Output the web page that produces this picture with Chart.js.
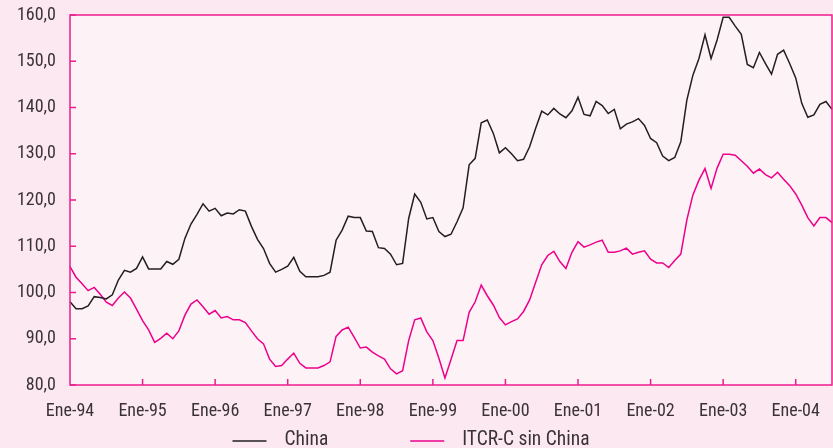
<!DOCTYPE html>
<html>
<head>
<meta charset="utf-8">
<script src="https://cdn.jsdelivr.net/npm/chart.js@4.4.1/dist/chart.umd.min.js"></script>
<style>
  html, body { margin: 0; padding: 0; background: #fce8f0; }
  #wrap { width: 833px; height: 448px; }
</style>
</head>
<body>
<div id="wrap"><canvas id="lineChart"></canvas></div>
<script>
// meses y años
const monthNames = ['Ene', 'Feb', 'Mar', 'Abr', 'May', 'Jun', 'Jul', 'Ago', 'Sep', 'Oct', 'Nov', 'Dic'];
const years = ['94', '95', '96', '97', '98', '99', '00', '01', '02', '03', '04'];

// serie China (Ene-94 a Jul-04)
const chinaValues = [
    98.0, 96.5, 96.5, 97.1, 99.1, 98.9, 98.6, 99.5, 102.7, 104.8, 104.4, 105.2,
    107.7, 105.1, 105.1, 105.1, 106.7, 106.1, 107.2, 111.7, 114.8, 116.9, 119.2, 117.6,
    118.2, 116.6, 117.2, 117.0, 117.9, 117.6, 114.3, 111.5, 109.5, 106.3, 104.4, 105.0,
    105.7, 107.6, 104.6, 103.4, 103.4, 103.4, 103.7, 104.4, 111.3, 113.5, 116.5, 116.2,
    116.2, 113.3, 113.2, 109.7, 109.5, 108.3, 106.0, 106.3, 116.0, 121.3, 119.5, 115.9,
    116.2, 113.2, 112.1, 112.6, 115.3, 118.3, 127.6, 129.0, 136.7, 137.3, 134.4, 130.2,
    131.3, 130.0, 128.5, 128.8, 131.5, 135.5, 139.2, 138.4, 139.8, 138.6, 137.8, 139.3,
    142.2, 138.5, 138.2, 141.3, 140.4, 138.7, 139.6, 135.4, 136.4, 136.9, 137.6, 136.1,
    133.3, 132.4, 129.5, 128.5, 129.2, 132.6, 141.6, 147.0, 150.6, 155.7, 150.6, 154.6,
    159.5, 159.5, 157.6, 155.8, 149.3, 148.6, 151.9, 149.5, 147.2, 151.5, 152.4, 149.5,
    146.4, 140.9, 137.9, 138.4, 140.7, 141.3, 139.6
];

// serie ITCR-C sin China
const itcrValues = [
    105.6, 103.3, 101.9, 100.4, 101.1, 99.6, 97.9, 97.2, 98.8, 100.1, 98.8, 96.4,
    93.9, 91.9, 89.2, 90.1, 91.2, 90.0, 91.7, 95.1, 97.5, 98.4, 96.9, 95.3,
    96.1, 94.5, 94.8, 94.1, 94.1, 93.5, 91.7, 90.0, 88.9, 85.6, 84.0, 84.2,
    85.6, 86.9, 84.7, 83.7, 83.7, 83.7, 84.2, 85.0, 90.5, 91.9, 92.5, 90.3,
    88.0, 88.2, 87.1, 86.3, 85.6, 83.5, 82.4, 83.1, 89.6, 94.1, 94.5, 91.5,
    89.6, 85.8, 81.5, 85.5, 89.6, 89.6, 95.7, 98.0, 101.6, 99.3, 97.3, 94.6,
    93.0, 93.7, 94.3, 95.9, 98.4, 102.2, 106.0, 108.0, 108.9, 106.7, 105.2, 108.7,
    111.0, 109.8, 110.3, 110.9, 111.3, 108.7, 108.7, 109.0, 109.6, 108.3, 108.7, 109.0,
    107.2, 106.4, 106.4, 105.4, 106.9, 108.3, 115.7, 121.1, 124.3, 126.8, 122.5, 126.9,
    129.9, 129.9, 129.7, 128.5, 127.3, 125.8, 126.7, 125.5, 124.8, 126.0, 124.5, 123.1,
    121.3, 118.9, 116.2, 114.4, 116.2, 116.2, 115.1
];

const yTicks = [80, 90, 100, 110, 120, 130, 140, 150, 160];

const labels = [];
years.forEach(function (yy) {
    monthNames.forEach(function (m) { labels.push(m + '-' + yy); });
});
labels.length = chinaValues.length;

const axisColor = '#ec1c8c';
const textColor = '#3a3336';
const fontFamily = "'Roboto Condensed', 'DejaVu Sans Condensed', sans-serif";
const fontSize = 18;
const legendFontSize = 19.5;

// fondo del area, marco, marcas hacia adentro y leyenda
const framePlugin = {
    id: 'frame',
    beforeDraw(chart) {
        const { ctx, chartArea: a } = chart;
        ctx.save();
        ctx.fillStyle = '#fdf3f7';
        ctx.fillRect(a.left, a.top, a.right - a.left, a.bottom - a.top);
        ctx.restore();
    },
    afterDraw(chart) {
        const { ctx, chartArea: a, scales } = chart;
        ctx.save();
        ctx.strokeStyle = axisColor;
        ctx.lineWidth = 1.5;
        ctx.strokeRect(a.left, a.top, a.right - a.left, a.bottom - a.top);
        ctx.beginPath();
        labels.forEach(function (l, i) {
            if (i % 12 === 0 && i > 0) {
                const x = scales.x.getPixelForValue(i);
                ctx.moveTo(x, a.bottom);
                ctx.lineTo(x, a.bottom - 6);
            }
        });
        yTicks.forEach(function (v) {
            const y = scales.y.getPixelForValue(v);
            ctx.moveTo(a.left, y);
            ctx.lineTo(a.left + 6, y);
        });
        ctx.stroke();

        // leyenda
        const lineLen = 34, textGap = 18, itemGap = 82;
        const y = 440;
        ctx.font = legendFontSize + 'px ' + fontFamily;
        const items = chart.data.datasets.map(function (ds) {
            return { text: ds.label, color: ds.borderColor, w: ctx.measureText(ds.label).width };
        });
        let total = 0;
        items.forEach(function (it, i) {
            total += lineLen + textGap + it.w + (i > 0 ? itemGap : 0);
        });
        let x = 411 - total / 2;
        ctx.textBaseline = 'middle';
        ctx.fillStyle = textColor;
        items.forEach(function (it) {
            ctx.beginPath();
            ctx.strokeStyle = it.color;
            ctx.lineWidth = 1.5;
            ctx.moveTo(x, y + 1);
            ctx.lineTo(x + lineLen, y + 1);
            ctx.stroke();
            ctx.fillText(it.text, x + lineLen + textGap, y);
            x += lineLen + textGap + it.w + itemGap;
        });
        ctx.restore();
    }
};

const ctx = document.getElementById('lineChart');

new Chart(ctx, {
    type: 'line',
    data: {
        labels: labels,
        datasets: [{
            label: 'China',
            data: chinaValues,
            borderColor: '#231f20',
            borderWidth: 1.5,
            pointRadius: 0,
            tension: 0
        }, {
            label: 'ITCR-C sin China',
            data: itcrValues,
            borderColor: '#ec008c',
            borderWidth: 1.5,
            pointRadius: 0,
            tension: 0
        }]
    },
    options: {
        responsive: true,
        maintainAspectRatio: false,
        animation: false,
        layout: { padding: { top: 15, right: 1, left: 0, bottom: 0 } },
        scales: {
            x: {
                grid: { display: false, drawTicks: false },
                border: { display: false },
                afterFit: function (scale) {
                    scale.height = 63;
                    scale.paddingLeft = 0;
                    scale.paddingRight = 0;
                },
                ticks: {
                    autoSkip: false,
                    maxRotation: 0,
                    padding: 16,
                    color: textColor,
                    font: { family: fontFamily, size: fontSize },
                    callback: function (value, index) {
                        return index % 12 === 0 ? labels[index] : null;
                    }
                }
            },
            y: {
                min: 80,
                max: 160,
                grid: { display: false, drawTicks: false },
                border: { display: false },
                afterFit: function (scale) {
                    scale.width = 70;
                    scale.paddingTop = 0;
                    scale.paddingBottom = 0;
                },
                afterBuildTicks: function (scale) {
                    scale.ticks = yTicks.map(function (v) { return { value: v }; });
                },
                ticks: {
                    padding: 14,
                    color: textColor,
                    font: { family: fontFamily, size: fontSize },
                    callback: function (value) {
                        return value.toFixed(1).replace('.', ',');
                    }
                }
            }
        },
        plugins: {
            legend: { display: false },
            tooltip: { enabled: false }
        }
    },
    plugins: [framePlugin]
});
</script>
</body>
</html>
